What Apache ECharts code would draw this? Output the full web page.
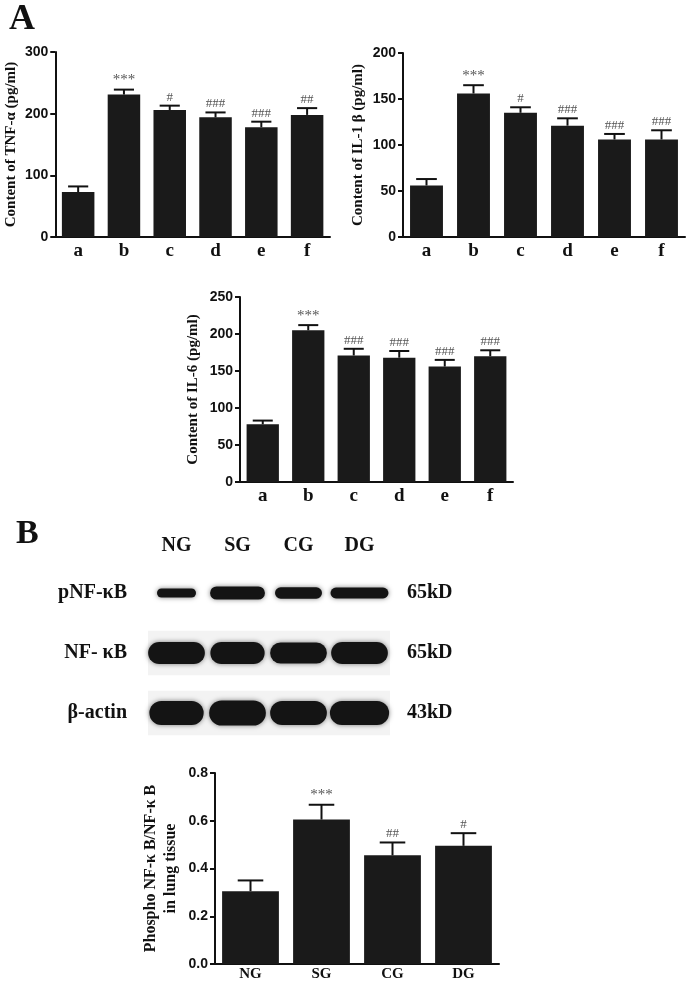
<!DOCTYPE html>
<html>
<head>
<meta charset="utf-8">
<script src="https://cdn.jsdelivr.net/npm/echarts@6/dist/echarts.min.js"></script>
<style>
  html, body { margin: 0; padding: 0; background: #fff; }
  #chart { width: 687px; height: 987px; }
</style>
</head>
<body>
<div id="chart"></div>
<script>
const letters = ['a', 'b', 'c', 'd', 'e', 'f']
const tnfMean = [73, 231, 206, 194, 178, 198]
const tnfSem = [9, 8, 7, 8, 9, 11]
const tnfSig = ['', '***', '#', '###', '###', '##']
const il1Mean = [56, 156, 135, 121, 106, 106]
const il1Sem = [7, 9, 6, 8, 6, 10]
const il1Sig = ['', '***', '#', '###', '###', '###']
const il6Mean = [78, 205, 171, 168, 156, 170]
const il6Sem = [5, 7, 9, 9, 9, 8]
const il6Sig = ['', '***', '###', '###', '###', '###']

const groups = ['NG', 'SG', 'CG', 'DG']
const pnfMean = [0.305, 0.605, 0.455, 0.495]
const pnfSem = [0.045, 0.062, 0.054, 0.053]
const pnfSig = ['', '***', '##', '#']

// western blot: rows, marker sizes, relative band width / thickness per lane
const blotRows = ['pNF-κB', 'NF- κB', 'β-actin']
const blotSizes = ['65kD', '65kD', '43kD']
const bandWidth = [
  [0.64, 0.90, 0.77, 0.95],
  [0.93, 0.89, 0.93, 0.93],
  [0.89, 0.93, 0.93, 0.97]
]
const bandThick = [
  [0.15, 0.22, 0.19, 0.18],
  [0.37, 0.37, 0.35, 0.37],
  [0.40, 0.42, 0.40, 0.40]
]
const membraneRows = [1, 2]

const serif = '"Liberation Serif", "Times New Roman", serif'
const sans = '"Liberation Sans", Arial, sans-serif'
const ink = '#111'

function errRender(sig, capFrac) {
  return function (params, api) {
    const i = api.value(0)
    const top = api.coord([i, api.value(1)])
    const end = api.coord([i, api.value(1) + api.value(2)])
    const half = api.size([1, 0])[0] * capFrac
    const children = [
      { type: 'line', shape: { x1: top[0], y1: top[1], x2: end[0], y2: end[1] }, style: { stroke: ink, lineWidth: 2 } },
      { type: 'line', shape: { x1: end[0] - half, y1: end[1], x2: end[0] + half, y2: end[1] }, style: { stroke: ink, lineWidth: 2 } }
    ]
    const s = sig[params.dataIndex]
    if (s) {
      const star = s.indexOf('*') >= 0
      children.push({
        type: 'text',
        style: {
          text: s, x: end[0], y: end[1] - 2,
          align: 'center', verticalAlign: 'bottom',
          fill: '#555', fontSize: star ? 15 : 13, fontFamily: serif
        }
      })
    }
    return { type: 'group', children }
  }
}

const grids = [
  { left: 52, top: 52, width: 278, height: 185 },
  { left: 403, top: 53, width: 282, height: 184 },
  { left: 240, top: 297, width: 273, height: 185 },
  { left: 215, top: 773, width: 284, height: 191 },
  { left: 146, top: 563, width: 244, height: 180 }
]

const panels = [
  { cats: letters, mean: tnfMean, sem: tnfSem, sig: tnfSig, max: 300, step: 100, name: 'Content of TNF-α (pg/ml)', gap: 34, nameFont: 15, xFont: 19, xMargin: 5, bar: '71%', cap: 0.22, dec: 0 },
  { cats: letters, mean: il1Mean, sem: il1Sem, sig: il1Sig, max: 200, step: 50, name: 'Content of IL-1 β (pg/ml)', gap: 35, nameFont: 15, xFont: 19, xMargin: 5, bar: '70%', cap: 0.22, dec: 0 },
  { cats: letters, mean: il6Mean, sem: il6Sem, sig: il6Sig, max: 250, step: 50, name: 'Content of IL-6 (pg/ml)', gap: 37, nameFont: 15, xFont: 19, xMargin: 5, bar: '71%', cap: 0.22, dec: 0 },
  { cats: groups, mean: pnfMean, sem: pnfSem, sig: pnfSig, max: 0.8, step: 0.2, name: 'Phospho NF-κ B/NF-κ B\nin lung tissue', gap: 34, nameFont: 16, xFont: 15, xMargin: 3, bar: '80%', cap: 0.18, dec: 1 }
]

const xAxis = []
const yAxis = []
const series = []

panels.forEach((p, k) => {
  xAxis.push({
    type: 'category', gridIndex: k, data: p.cats,
    axisLine: { lineStyle: { color: ink, width: 2 } },
    axisTick: { alignWithLabel: true, length: 5, lineStyle: { color: ink, width: 2 } },
    axisLabel: { color: ink, fontFamily: serif, fontWeight: 'bold', fontSize: p.xFont, margin: p.xMargin }
  })
  yAxis.push({
    type: 'value', gridIndex: k, min: 0, max: p.max, interval: p.step,
    name: p.name, nameLocation: 'middle', nameRotate: 90, nameGap: p.gap,
    nameTextStyle: { color: ink, fontFamily: serif, fontWeight: 'bold', fontSize: p.nameFont, lineHeight: 20 },
    axisLine: { show: true, lineStyle: { color: ink, width: 2 } },
    axisTick: { show: true, length: 5, lineStyle: { color: ink, width: 2 } },
    axisLabel: { color: ink, fontFamily: sans, fontWeight: 'bold', fontSize: 14, margin: 7, formatter: (v) => v.toFixed(p.dec) },
    splitLine: { show: false }
  })
  series.push({
    type: 'bar', xAxisIndex: k, yAxisIndex: k, data: p.mean, barWidth: p.bar,
    itemStyle: { color: '#1a1a1a' }, silent: true
  })
  series.push({
    type: 'custom', xAxisIndex: k, yAxisIndex: k, z: 5, silent: true,
    data: p.mean.map((v, i) => [i, v, p.sem[i]]),
    renderItem: errRender(p.sig, p.cap)
  })
})

// blot grid (index 4)
xAxis.push({
  type: 'category', gridIndex: 4, data: groups, position: 'top',
  axisLine: { show: false }, axisTick: { show: false },
  axisLabel: { color: ink, fontFamily: serif, fontWeight: 'bold', fontSize: 20, margin: 7 }
})
yAxis.push({
  type: 'category', gridIndex: 4, data: blotRows, inverse: true,
  axisLine: { show: false }, axisTick: { show: false }, splitLine: { show: false },
  axisLabel: { color: ink, fontFamily: serif, fontWeight: 'bold', fontSize: 20, margin: 19 }
})
yAxis.push({
  type: 'category', gridIndex: 4, data: blotSizes, inverse: true, position: 'right',
  axisLine: { show: false }, axisTick: { show: false }, splitLine: { show: false },
  axisLabel: { color: ink, fontFamily: serif, fontWeight: 'bold', fontSize: 20, margin: 17 }
})

series.push({
  type: 'custom', xAxisIndex: 4, yAxisIndex: 4, silent: true, z: 1,
  data: membraneRows.map((r) => [0, r]),
  renderItem: (params, api) => {
    const c = api.coord([0, api.value(1)])
    const h = api.size([1, 1])[1] * 0.74
    const cs = params.coordSys
    return { type: 'rect', shape: { x: cs.x + 2, y: c[1] - h / 2, width: cs.width - 2, height: h }, style: { fill: '#f3f3f3' } }
  }
})

const bands = []
bandWidth.forEach((row, r) => row.forEach((w, l) => bands.push([l, r, w, bandThick[r][l]])))
series.push({
  type: 'custom', xAxisIndex: 4, yAxisIndex: 4, silent: true, z: 2,
  data: bands,
  renderItem: (params, api) => {
    const c = api.coord([api.value(0), api.value(1)])
    const cell = api.size([1, 1])
    const w = cell[0] * api.value(2)
    const h = cell[1] * api.value(3)
    return {
      type: 'rect',
      shape: { x: c[0] - w / 2, y: c[1] - h / 2, width: w, height: h, r: h / 2 },
      style: { fill: '#141414', shadowBlur: 5, shadowColor: 'rgba(0,0,0,0.5)' }
    }
  }
})

const option = {
  backgroundColor: '#fff',
  animation: false,
  grid: grids,
  xAxis,
  yAxis,
  series,
  graphic: [
    { type: 'text', left: 9, top: 2, style: { text: 'A', fill: ink, fontFamily: serif, fontWeight: 'bold', fontSize: 36 } },
    { type: 'text', left: 16, top: 517, style: { text: 'B', fill: ink, fontFamily: serif, fontWeight: 'bold', fontSize: 34 } }
  ]
}

const myChart = echarts.init(document.getElementById('chart'))
myChart.setOption(option)
window.addEventListener('resize', () => {
  myChart.resize()
})
</script>
</body>
</html>
